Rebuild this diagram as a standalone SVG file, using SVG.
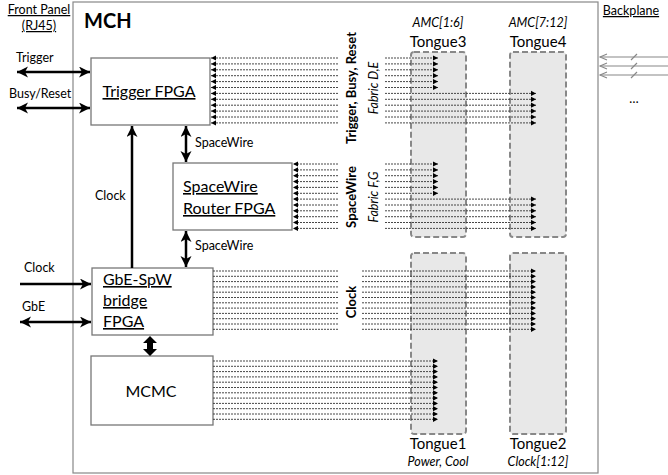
<svg xmlns="http://www.w3.org/2000/svg" width="668" height="475" viewBox="0 0 668 475">
<style>
text{font-family:Lato,"Open Sans","Liberation Sans",sans-serif;fill:#000}
.box{fill:#fff;stroke:#777;stroke-width:1.3}
.tg{fill:#e8e8e8;stroke:#888;stroke-width:2;stroke-dasharray:6 3}
.d{stroke:#333;stroke-width:0.9;stroke-dasharray:2 1;fill:none}
.ae{marker-end:url(#a)}
.th{stroke:#000;stroke-width:2.5;fill:none}
.ul{text-decoration:underline}
.s{font-size:12.5px}
.b16{font-size:16px}
.vb{font-size:13px;font-weight:bold}
.vi{font-size:12.5px;font-style:italic}
.it{font-size:12.5px;font-style:italic}
.t15{font-size:15px}
.bp{stroke:#888;stroke-width:1.2;fill:none}
</style>
<defs>
<marker id="a" markerUnits="userSpaceOnUse" markerWidth="6" markerHeight="6" refX="5" refY="3" orient="auto-start-reverse"><path d="M0,0.4 L5,3 L0,5.6 z" fill="#000"/></marker>
<marker id="t" markerUnits="userSpaceOnUse" markerWidth="12" markerHeight="12" refX="11" refY="5.5" orient="auto-start-reverse"><path d="M0,0 L11,5.5 L0,11 L3,5.5 z" fill="#000"/></marker>
<marker id="o" markerUnits="userSpaceOnUse" markerWidth="10" markerHeight="10" refX="8" refY="4" orient="auto-start-reverse"><path d="M1,1 L8,4 L1,7" fill="none" stroke="#888" stroke-width="1.1"/></marker>
</defs>

<g id="mch">
<rect x="73" y="2" width="525" height="471" fill="#fff" stroke="#888" stroke-width="1.2"/>
<text x="84" y="28" font-size="20" font-weight="bold">MCH</text>
</g>

<g id="front-panel">
<text class="s ul" x="39" y="14" text-anchor="middle">Front Panel</text>
<text class="s ul" x="39" y="30" text-anchor="middle">(RJ45)</text>
</g>

<g id="backplane">
<text class="s ul" x="631" y="15" text-anchor="middle">Backplane</text>
<line class="bp" x1="668" y1="57" x2="600" y2="57" marker-end="url(#o)"/>
<line class="bp" x1="668" y1="66" x2="600" y2="66" marker-end="url(#o)"/>
<line class="bp" x1="668" y1="75" x2="600" y2="75" marker-end="url(#o)"/>
<path class="bp" d="M631,60 L637,54 M631,69 L637,63 M631,78 L637,72"/>
<text class="s" x="634" y="103" text-anchor="middle">…</text>
</g>

<g id="tongue3">
<rect class="tg" x="411" y="52" width="55" height="185" rx="3"/>
<text class="it" x="438" y="27" text-anchor="middle">AMC[1:6]</text>
<text class="t15" x="438" y="47" text-anchor="middle">Tongue3</text>
</g>
<g id="tongue4">
<rect class="tg" x="510" y="52" width="56" height="185" rx="3"/>
<text class="it" x="538" y="27" text-anchor="middle">AMC[7:12]</text>
<text class="t15" x="538" y="47" text-anchor="middle">Tongue4</text>
</g>
<g id="tongue1">
<rect class="tg" x="411" y="253" width="55" height="181" rx="3"/>
<text class="t15" x="438" y="449" text-anchor="middle">Tongue1</text>
<text class="it" x="438" y="466" text-anchor="middle">Power, Cool</text>
</g>
<g id="tongue2">
<rect class="tg" x="510" y="253" width="56" height="181" rx="3"/>
<text class="t15" x="538" y="449" text-anchor="middle">Tongue2</text>
<text class="it" x="538" y="466" text-anchor="middle">Clock[1:12]</text>
</g>

<g id="trigger-fpga">
<rect class="box" x="91" y="58" width="119" height="67"/>
<text class="b16 ul" x="149" y="97" text-anchor="middle">Trigger FPGA</text>
</g>
<g id="spacewire-router">
<rect class="box" x="173" y="163" width="119" height="67"/>
<text class="b16 ul" x="183" y="192">SpaceWire</text>
<text class="b16 ul" x="183" y="214">Router FPGA</text>
</g>
<g id="gbe-bridge">
<rect class="box" x="92" y="268" width="121" height="67"/>
<text class="b16 ul" x="103" y="285">GbE-SpW</text>
<text class="b16 ul" x="103" y="306">bridge</text>
<text class="b16 ul" x="103" y="327">FPGA</text>
</g>
<g id="mcmc">
<rect class="box" x="91" y="356" width="122" height="69"/>
<text class="b16" x="151" y="397" text-anchor="middle">MCMC</text>
</g>

<g id="labels">
<text class="s" x="16" y="62">Trigger</text>
<text class="s" x="9" y="98">Busy/Reset</text>
<text class="s" x="24" y="272">Clock</text>
<text class="s" x="22" y="311">GbE</text>
<text class="s" x="95" y="200">Clock</text>
<text class="s" x="195" y="147">SpaceWire</text>
<text class="s" x="195" y="250">SpaceWire</text>
<text class="vb" transform="translate(356,88) rotate(-90)" text-anchor="middle">Trigger, Busy, Reset</text>
<text class="vi" transform="translate(378,88) rotate(-90)" text-anchor="middle">Fabric D,E</text>
<text class="vb" transform="translate(356,197) rotate(-90)" text-anchor="middle">SpaceWire</text>
<text class="vi" transform="translate(378,197) rotate(-90)" text-anchor="middle">Fabric F,G</text>
<text class="vb" transform="translate(356,302) rotate(-90)" text-anchor="middle">Clock</text>
</g>

<g id="connectors">
<line class="th" x1="17" y1="72" x2="90" y2="72" marker-start="url(#t)" marker-end="url(#t)"/>
<line class="th" x1="17" y1="108" x2="90" y2="108" marker-start="url(#t)" marker-end="url(#t)"/>
<line class="th" x1="20" y1="284" x2="91" y2="284" marker-end="url(#t)"/>
<line class="th" x1="20" y1="322" x2="91" y2="322" marker-start="url(#t)" marker-end="url(#t)"/>
<line class="th" x1="132" y1="268" x2="132" y2="126" marker-end="url(#t)"/>
<line class="th" x1="186" y1="126" x2="186" y2="162" marker-start="url(#t)" marker-end="url(#t)"/>
<line class="th" x1="186" y1="231" x2="186" y2="267" marker-start="url(#t)" marker-end="url(#t)"/>
<polygon points="150,336 157,343 153,343 153,349 157,349 150,356 143,349 147,349 147,343 143,343" fill="#000"/>

<!-- Trigger / Busy / Reset bus -->
<g>
<line class="d ae" x1="338" y1="58" x2="211" y2="58"/>
<line class="d ae" x1="338" y1="63.9" x2="211" y2="63.9"/>
<line class="d ae" x1="338" y1="69.8" x2="211" y2="69.8"/>
<line class="d ae" x1="338" y1="75.7" x2="211" y2="75.7"/>
<line class="d ae" x1="338" y1="81.6" x2="211" y2="81.6"/>
<line class="d ae" x1="338" y1="87.5" x2="211" y2="87.5"/>
<line class="d ae" x1="338" y1="93.4" x2="211" y2="93.4"/>
<line class="d ae" x1="338" y1="99.3" x2="211" y2="99.3"/>
<line class="d ae" x1="338" y1="105.2" x2="211" y2="105.2"/>
<line class="d ae" x1="338" y1="111.1" x2="211" y2="111.1"/>
<line class="d ae" x1="338" y1="117" x2="211" y2="117"/>
<line class="d ae" x1="338" y1="122.9" x2="211" y2="122.9"/>
<line class="d ae" x1="385" y1="58" x2="438" y2="58"/>
<line class="d ae" x1="385" y1="63.9" x2="438" y2="63.9"/>
<line class="d ae" x1="385" y1="69.8" x2="438" y2="69.8"/>
<line class="d ae" x1="385" y1="75.7" x2="438" y2="75.7"/>
<line class="d ae" x1="385" y1="81.6" x2="438" y2="81.6"/>
<line class="d ae" x1="385" y1="87.5" x2="438" y2="87.5"/>
<line class="d ae" x1="385" y1="93.4" x2="536" y2="93.4"/>
<line class="d ae" x1="385" y1="99.3" x2="536" y2="99.3"/>
<line class="d ae" x1="385" y1="105.2" x2="536" y2="105.2"/>
<line class="d ae" x1="385" y1="111.1" x2="536" y2="111.1"/>
<line class="d ae" x1="385" y1="117" x2="536" y2="117"/>
<line class="d ae" x1="385" y1="122.9" x2="536" y2="122.9"/>
</g>
<!-- SpaceWire bus -->
<g>
<line class="d ae" x1="338" y1="164" x2="293" y2="164"/>
<line class="d ae" x1="338" y1="169.9" x2="293" y2="169.9"/>
<line class="d ae" x1="338" y1="175.7" x2="293" y2="175.7"/>
<line class="d ae" x1="338" y1="181.6" x2="293" y2="181.6"/>
<line class="d ae" x1="338" y1="187.4" x2="293" y2="187.4"/>
<line class="d ae" x1="338" y1="193.3" x2="293" y2="193.3"/>
<line class="d ae" x1="338" y1="199.1" x2="293" y2="199.1"/>
<line class="d ae" x1="338" y1="205" x2="293" y2="205"/>
<line class="d ae" x1="338" y1="210.8" x2="293" y2="210.8"/>
<line class="d ae" x1="338" y1="216.7" x2="293" y2="216.7"/>
<line class="d ae" x1="338" y1="222.5" x2="293" y2="222.5"/>
<line class="d ae" x1="338" y1="228.4" x2="293" y2="228.4"/>
<line class="d ae" x1="385" y1="164" x2="438" y2="164"/>
<line class="d ae" x1="385" y1="169.9" x2="438" y2="169.9"/>
<line class="d ae" x1="385" y1="175.7" x2="438" y2="175.7"/>
<line class="d ae" x1="385" y1="181.6" x2="438" y2="181.6"/>
<line class="d ae" x1="385" y1="187.4" x2="438" y2="187.4"/>
<line class="d ae" x1="385" y1="193.3" x2="438" y2="193.3"/>
<line class="d ae" x1="385" y1="199.1" x2="536" y2="199.1"/>
<line class="d ae" x1="385" y1="205" x2="536" y2="205"/>
<line class="d ae" x1="385" y1="210.8" x2="536" y2="210.8"/>
<line class="d ae" x1="385" y1="216.7" x2="536" y2="216.7"/>
<line class="d ae" x1="385" y1="222.5" x2="536" y2="222.5"/>
<line class="d ae" x1="385" y1="228.4" x2="536" y2="228.4"/>
</g>
<!-- Clock bus -->
<g>
<line class="d" x1="213" y1="271" x2="338" y2="271"/>
<line class="d" x1="213" y1="276.3" x2="338" y2="276.3"/>
<line class="d" x1="213" y1="281.6" x2="338" y2="281.6"/>
<line class="d" x1="213" y1="286.9" x2="338" y2="286.9"/>
<line class="d" x1="213" y1="292.2" x2="338" y2="292.2"/>
<line class="d" x1="213" y1="297.5" x2="338" y2="297.5"/>
<line class="d" x1="213" y1="302.8" x2="338" y2="302.8"/>
<line class="d" x1="213" y1="308.1" x2="338" y2="308.1"/>
<line class="d" x1="213" y1="313.4" x2="338" y2="313.4"/>
<line class="d" x1="213" y1="318.7" x2="338" y2="318.7"/>
<line class="d" x1="213" y1="324" x2="338" y2="324"/>
<line class="d" x1="213" y1="329.3" x2="338" y2="329.3"/>
<line class="d ae" x1="362" y1="271" x2="536" y2="271"/>
<line class="d ae" x1="362" y1="276.3" x2="536" y2="276.3"/>
<line class="d ae" x1="362" y1="281.6" x2="536" y2="281.6"/>
<line class="d ae" x1="362" y1="286.9" x2="536" y2="286.9"/>
<line class="d ae" x1="362" y1="292.2" x2="536" y2="292.2"/>
<line class="d ae" x1="362" y1="297.5" x2="536" y2="297.5"/>
<line class="d ae" x1="362" y1="302.8" x2="536" y2="302.8"/>
<line class="d ae" x1="362" y1="308.1" x2="536" y2="308.1"/>
<line class="d ae" x1="362" y1="313.4" x2="536" y2="313.4"/>
<line class="d ae" x1="362" y1="318.7" x2="536" y2="318.7"/>
<line class="d ae" x1="362" y1="324" x2="536" y2="324"/>
<line class="d ae" x1="362" y1="329.3" x2="536" y2="329.3"/>
</g>
<!-- MCMC bus -->
<g>
<line class="d ae" x1="213" y1="361" x2="438" y2="361"/>
<line class="d ae" x1="213" y1="366.3" x2="438" y2="366.3"/>
<line class="d ae" x1="213" y1="371.6" x2="438" y2="371.6"/>
<line class="d ae" x1="213" y1="376.9" x2="438" y2="376.9"/>
<line class="d ae" x1="213" y1="382.2" x2="438" y2="382.2"/>
<line class="d ae" x1="213" y1="387.5" x2="438" y2="387.5"/>
<line class="d ae" x1="213" y1="392.8" x2="438" y2="392.8"/>
<line class="d ae" x1="213" y1="398.1" x2="438" y2="398.1"/>
<line class="d ae" x1="213" y1="403.4" x2="438" y2="403.4"/>
<line class="d ae" x1="213" y1="408.7" x2="438" y2="408.7"/>
<line class="d ae" x1="213" y1="414" x2="438" y2="414"/>
<line class="d ae" x1="213" y1="419.3" x2="438" y2="419.3"/>
</g>
</g>
</svg>
